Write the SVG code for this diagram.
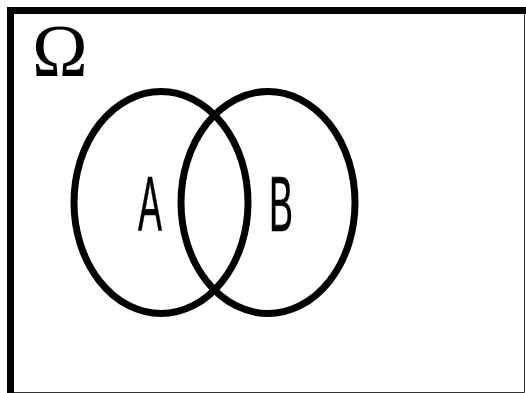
<svg xmlns="http://www.w3.org/2000/svg" width="526" height="393" viewBox="0 0 526 393">
<style>
.set{fill:none;stroke:#000;stroke-width:7}
.lbl{font-family:"Liberation Sans",Arial,sans-serif;font-size:78px;fill:#000;stroke:#000;stroke-width:0.6}
</style>
<rect width="526" height="393" fill="#fff"/>
<g id="universe">
<path d="M10.5,393 V10.5 H526" fill="none" stroke="#000" stroke-width="7"/>
<path d="M524.5,14 V392.5 H14" fill="none" stroke="#333" stroke-width="1"/>
<text x="32" y="76" font-family="Liberation Serif,'Times New Roman',serif" font-size="75">Ω</text>
</g>
<g id="connectors"></g>
<g id="setA">
<ellipse class="set" cx="161" cy="202.5" rx="87" ry="111"/>
<text class="lbl" x="138" y="231" textLength="24" lengthAdjust="spacingAndGlyphs">A</text>
</g>
<g id="setB">
<ellipse class="set" cx="268" cy="202.5" rx="87" ry="111"/>
<text class="lbl" x="269" y="231" textLength="24" lengthAdjust="spacingAndGlyphs">B</text>
</g>
</svg>
